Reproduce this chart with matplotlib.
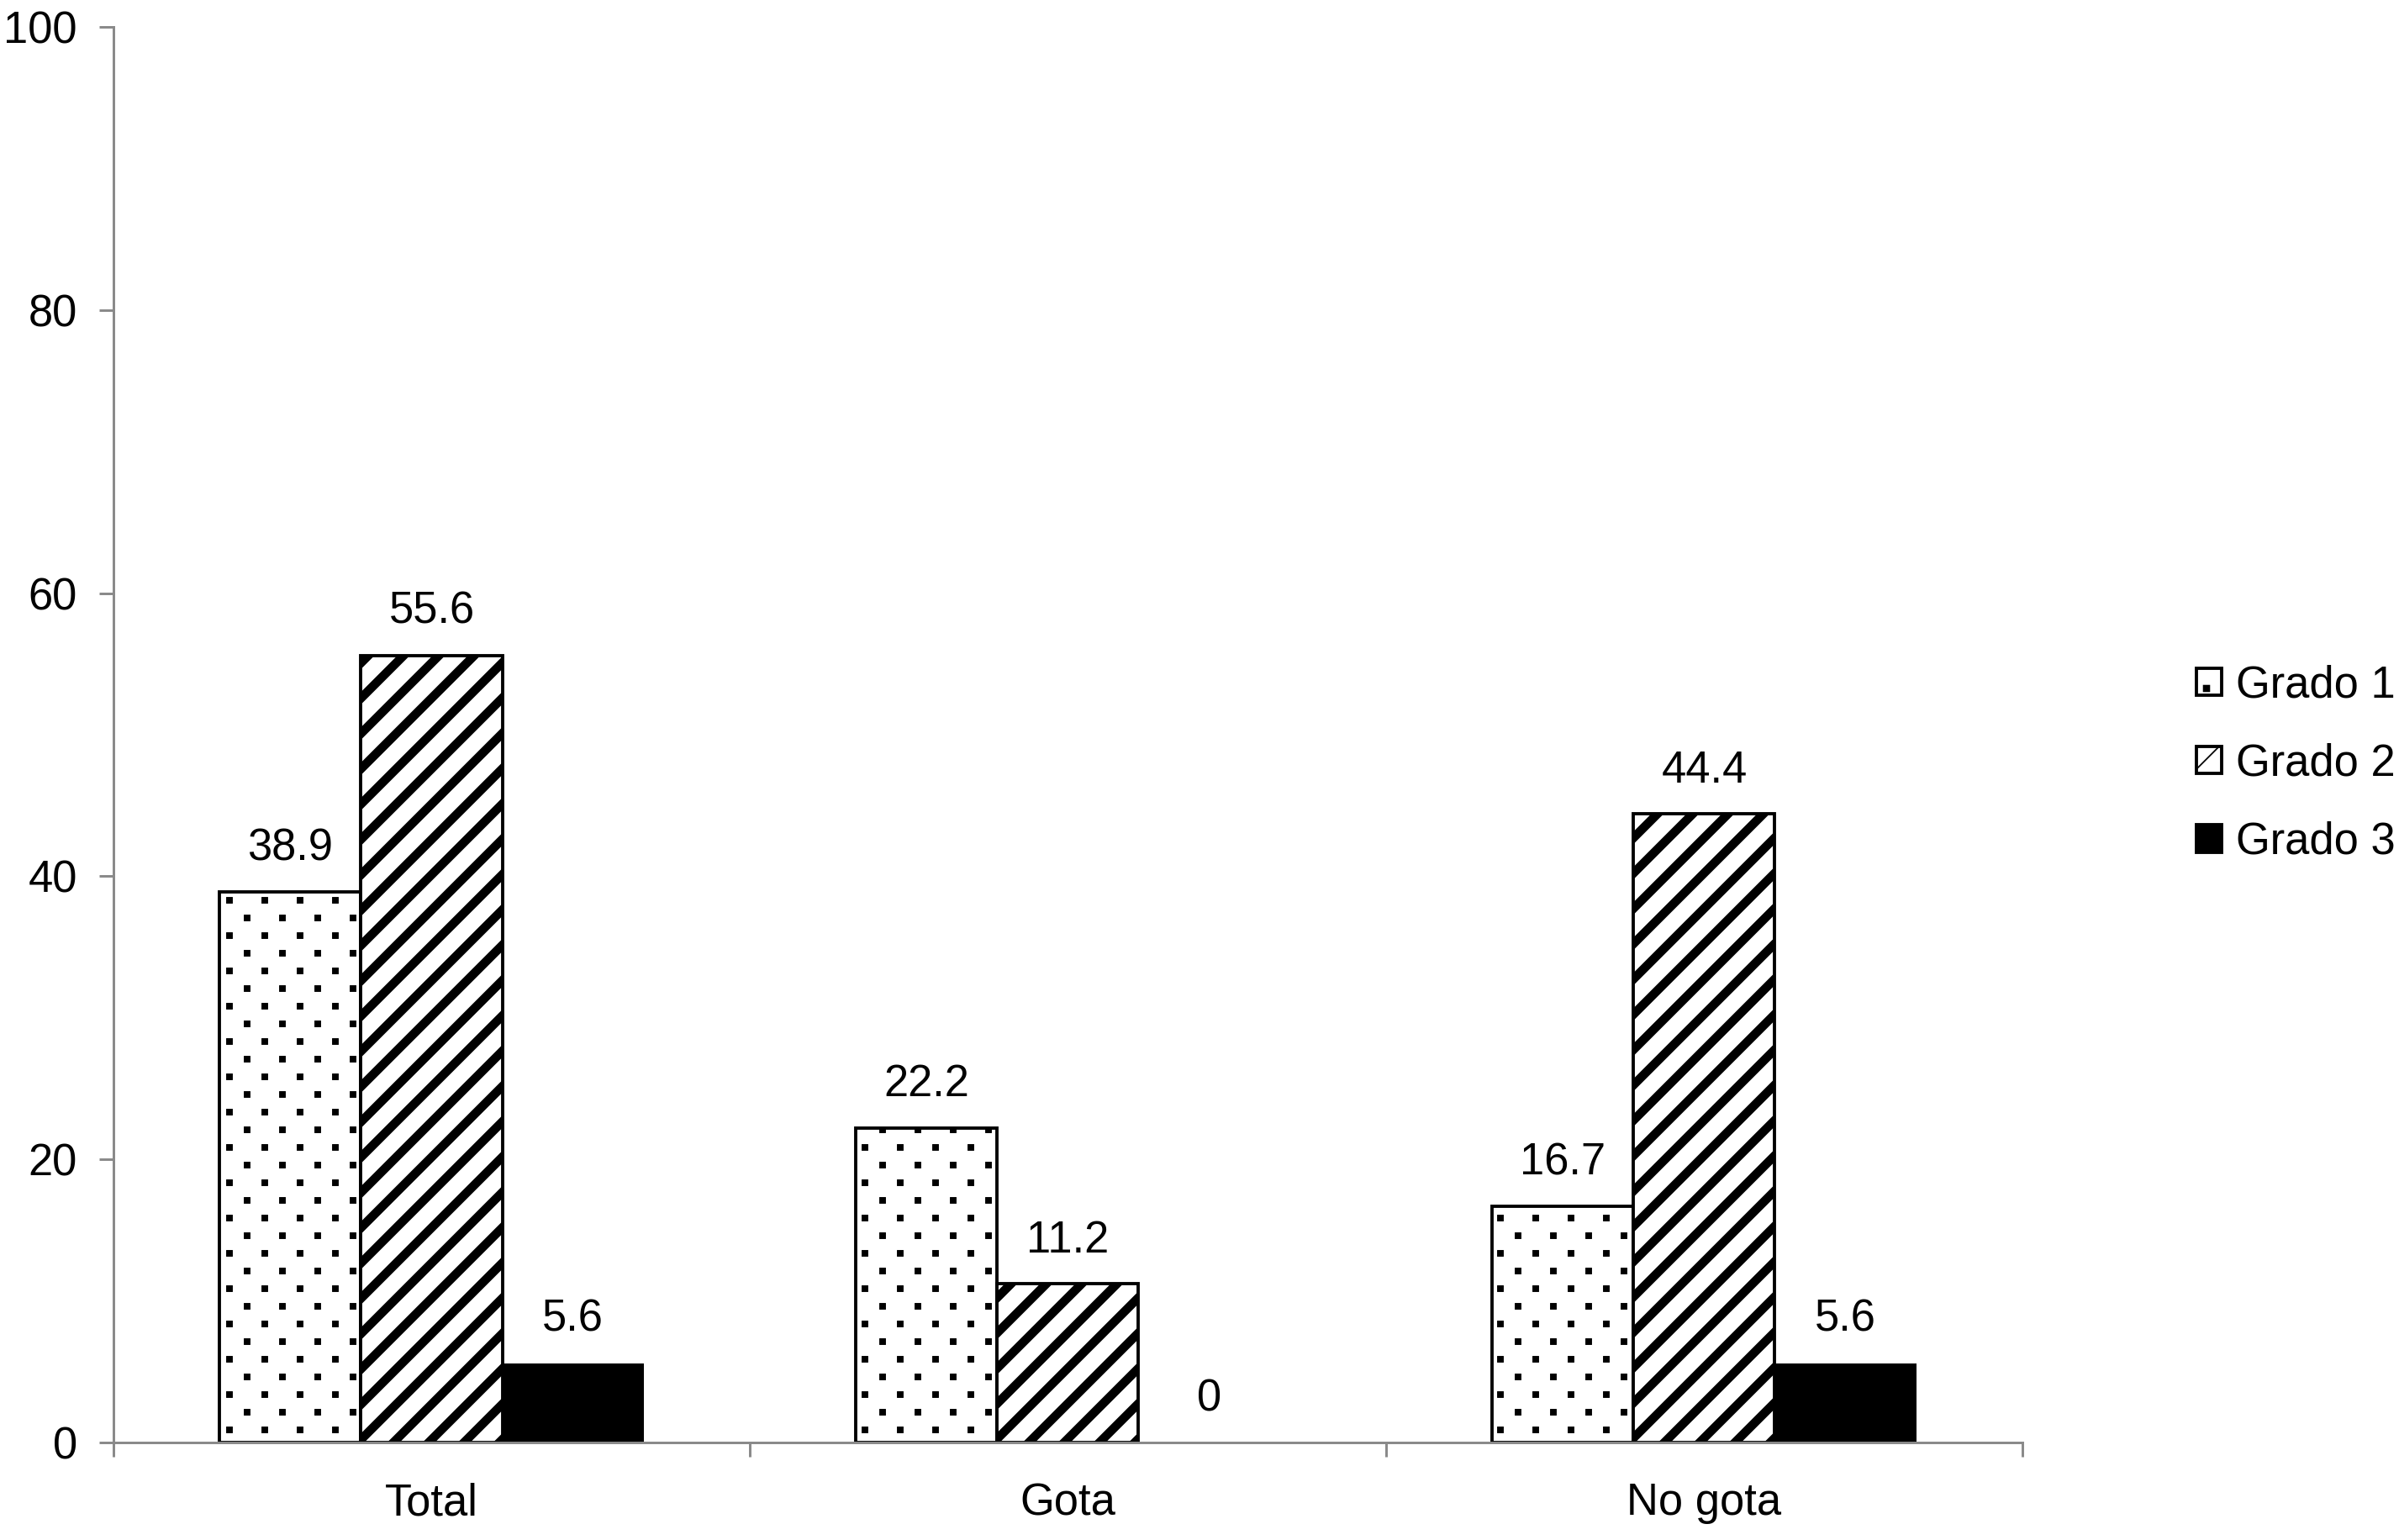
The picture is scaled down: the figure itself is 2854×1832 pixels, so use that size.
import numpy as np
import matplotlib
matplotlib.use("Agg")
import matplotlib.pyplot as plt
from matplotlib import hatch as mhatch
from matplotlib.path import Path
from matplotlib.ticker import FixedLocator, MultipleLocator

plt.rcParams['font.family'] = ['Liberation Sans', 'DejaVu Sans']

categorias = ['Total', 'Gota', 'No gota']
series = ['Grado 1', 'Grado 2', 'Grado 3']
grado1 = [38.9, 22.2, 16.7]
grado2 = [55.6, 11.2, 44.4]
grado3 = [5.6, 0, 5.6]
etiquetas = ['38.9', '55.6', '5.6', '22.2', '11.2', '0', '16.7', '44.4', '5.6']


class PuntosCuadrados(mhatch.HatchPatternBase):
    """Puntos cuadrados en tresbolillo (filas a media distancia), como en Excel."""

    def __init__(self, hatch, density):
        n = hatch.count('.') * density * 2
        self.n = n
        if n == 0:
            self.num_vertices = 0
            return
        ii, jj = np.meshgrid(np.arange(n + 1), np.arange(n + 1))
        sel = (ii + jj) % 2 == 0
        self.centros = np.column_stack([ii[sel], jj[sel]]) / n
        self.num_vertices = len(self.centros) * 5

    def set_vertices_and_codes(self, vertices, codes):
        a = 0.0135
        cuadro = np.array([[-a, -a], [a, -a], [a, a], [-a, a], [-a, -a]])
        v = (self.centros[:, None, :] + cuadro[None, :, :]).reshape(-1, 2)
        vertices[:] = v
        c = np.full((len(self.centros), 5), Path.LINETO, dtype=Path.code_type)
        c[:, 0] = Path.MOVETO
        c[:, 4] = Path.CLOSEPOLY
        codes[:] = c.ravel()


mhatch._hatch_types = [PuntosCuadrados if h is mhatch.SmallFilledCircles else h
                       for h in mhatch._hatch_types]

DPI = 252
fig = plt.figure(figsize=(2854 / DPI, 1832 / DPI), dpi=DPI)
ax = fig.add_axes([0.0473, 0.0633, 0.7957, 0.9192])

fs = 15
gris = '#8a8a8a'
x = np.arange(len(categorias))
w = 0.222

estilos = [('white', '.', 0.3, 1.1), ('white', '//', 3.0, 1.1),
           ('black', None, 0.5, 0)]
valores = [grado1, grado2, grado3]
conts = []
for i, (vals, (fc, hatch, hlw, lw)) in enumerate(zip(valores, estilos)):
    plt.rcParams['hatch.linewidth'] = hlw
    b = ax.bar(x + (i - 1) * w, vals, w, color=fc, edgecolor='black',
               linewidth=lw, hatch=hatch, label=series[i])
    for p in b:
        try:
            p.set_hatch_linewidth(hlw)
        except AttributeError:
            pass
    conts.append(b)

# etiquetas de datos encima de cada barra
for j in range(len(categorias)):
    for i, vals in enumerate(valores):
        ax.annotate(etiquetas[j * 3 + i], (x[j] + (i - 1) * w, vals[j]),
                    xytext=(0, 14.8), textcoords='offset points',
                    ha='center', va='center', fontsize=fs)

ax.set_xlim(-0.5, 2.5)
ax.set_ylim(0, 100)
ax.yaxis.set_major_locator(MultipleLocator(20))
ax.set_xticks(x)
ax.set_xticklabels(categorias)
ax.xaxis.set_minor_locator(FixedLocator([-0.5, 0.5, 1.5, 2.5]))
ax.tick_params(axis='x', which='major', length=0, pad=13.5, labelsize=fs)
ax.tick_params(axis='x', which='minor', length=4.8, width=0.85, color=gris)
ax.tick_params(axis='y', which='major', length=4.8, width=0.85, color=gris,
               pad=7.5, labelsize=fs)

for s in ['top', 'right']:
    ax.spines[s].set_visible(False)
for s in ['left', 'bottom']:
    ax.spines[s].set_color(gris)
    ax.spines[s].set_linewidth(0.85)

leg = fig.legend(handles=conts, labels=series, loc='center left',
                 bbox_to_anchor=(0.9155, 0.504), frameon=False, fontsize=fs,
                 handlelength=0.58, handleheight=0.58, handletextpad=0.32,
                 labelspacing=0.82, borderaxespad=0, borderpad=0)
for h in leg.legend_handles:
    h.set_linewidth(1.1)
    h.set_edgecolor('black')

fig.savefig('out.png', dpi=DPI)
